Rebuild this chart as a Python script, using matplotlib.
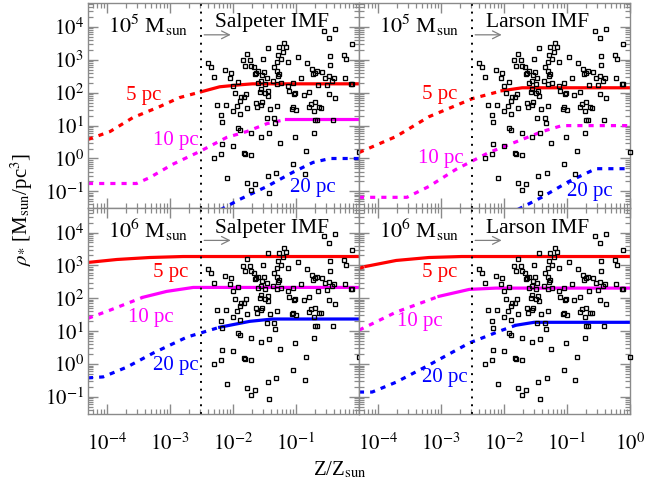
import matplotlib

matplotlib.use("Agg")
import matplotlib.pyplot as plt
import numpy as np

plt.rcParams["font.family"] = ["Liberation Serif", "DejaVu Serif"]
plt.rcParams["mathtext.fontset"] = "stix"
plt.rcParams["font.size"] = 14

log_z_obs = [
    -0.56, -0.373, -0.469, -0.117, -0.24, -0.203, -0.464, -0.827, -0.96, -1.12,
    -0.747, -0.693, -0.667, -0.587, -0.453, -0.544, -0.427, -0.40, -0.48, -0.229,
    -0.128, -1.44, -1.27, -1.195, -1.152, -1.205, -1.28, -1.237, -1.307, -1.771,
    -1.84, -1.733, -1.803, -1.707, -1.669, -1.627, -1.60, -1.643, -1.536, -1.509,
    -1.467, -1.344, -1.307, -1.28, -1.36, -1.307, -1.547, -1.493, -1.60, -2.40,
    -2.347, -2.304, -2.133, -2.027, -2.048, -1.92, -2.00, -1.973, -1.867, -1.824,
    -1.893, -2.107, -2.256, -2.187, -2.176, -1.931, -1.893, -1.776, -1.547, -1.493,
    -1.573, -1.44, -1.12, -1.04, -1.024, -1.013, -0.917, -0.88, -1.067, -1.003,
    -1.051, -0.757, -0.693, -0.64, -0.789, -0.72, -0.704, -0.667, -0.597, -0.411,
    -0.384, -1.333, -1.344, -1.467, -1.611, -1.547, -1.536, -1.408, -1.301, -1.707,
    -1.92, -1.888, -1.557, -1.429, -1.013, -0.709, -0.843, -1.253, -2.171, -2.293,
    -2.187, -2.00, -1.829, -1.803, -1.707, -1.051, -0.864, -1.323, -1.451, -2.091,
    -1.771, -1.653, -1.717, -1.429, 0.0, -0.107, -1.792, -1.632, -2.0,
    -0.725, -0.645, -0.512, -0.80, -0.48, -1.109, -1.515, -1.237, -1.264, -1.451,
]
log_rho_obs = [
    3.89, 3.94, 3.67, 3.47, 3.15, 3.02, 3.12, 2.89, 3.09, 2.92,
    2.71, 2.61, 2.66, 2.63, 2.84, 2.46, 2.36, 2.44, 2.51, 2.44,
    2.28, 3.37, 3.39, 3.52, 3.40, 3.25, 3.14, 3.02, 2.92, 3.19,
    2.99, 2.99, 2.82, 2.82, 2.77, 2.61, 2.66, 2.58, 2.54, 2.64,
    2.46, 2.77, 2.66, 2.51, 2.36, 2.28, 2.36, 2.28, 2.31, 2.89,
    2.77, 2.48, 2.68, 2.61, 2.44, 2.33, 2.21, 1.98, 1.86, 1.86,
    1.76, 1.64, 1.64, 1.31, 1.11, 1.61, 1.34, 1.53, 2.11, 1.98,
    2.01, 1.91, 2.21, 2.31, 1.96, 1.98, 2.44, 1.94, 1.51, 1.48,
    1.56, 1.66, 1.71, 1.56, 1.58, 1.44, 1.16, 1.16, 1.54, 1.16,
    1.84, 1.08, 1.24, 1.24, 1.56, 1.64, 1.71, 1.51, 1.60, 0.78,
    0.94, 0.88, 0.66, 0.76, 0.64, 0.79, 0.22, 0.46, 0.44, 0.01,
    0.13, 0.39, 0.17, 0.15, 0.11, -0.18, -0.47, -0.43, -0.53, -0.60,
    -0.73, -0.78, -0.95, -1.05, 0.20, 2.28, 1.97, 1.70, 1.43,
    2.57, 2.235, 2.24, 2.03, 1.96, 2.04, 3.02, 2.31, 2.57, 2.06,
]

# model curves (log10 Z, log10 rho); solid_from = log Z where the line turns solid
sal5_5pc_z = [-4.3, -3.95, -3.59, -3.16, -2.85, -2.5, -2.21, -1.89, -1.69, 0.0]
sal5_5pc_rho = [0.58, 0.82, 1.24, 1.58, 1.85, 2.03, 2.18, 2.24, 2.27, 2.27]
sal5_10pc_z = [-4.3, -3.53, -3.32, -2.96, -2.53, -2.1, -1.78, -1.46, -1.15, 0.0]
sal5_10pc_rho = [-0.76, -0.76, -0.58, -0.18, 0.21, 0.64, 0.82, 1.06, 1.19, 1.19]
sal5_20pc_z = [-2.2, -1.89, -1.46, -1.05, -0.73, -0.46, 0.0]
sal5_20pc_rho = [-1.56, -1.24, -0.85, -0.42, -0.12, 0.0, 0.0]

lar5_5pc_z = [-4.3, -3.71, -3.19, -2.5, -2.03, -1.71, 0.0]
lar5_5pc_rho = [0.18, 0.67, 1.27, 1.82, 2.06, 2.15, 2.15]
lar5_10pc_z = [-4.3, -3.54, -3.19, -2.76, -2.24, -1.71, -1.39, -1.08, 0.0]
lar5_10pc_rho = [-1.18, -1.18, -0.85, -0.33, 0.18, 0.58, 0.82, 1.0, 1.0]
lar5_20pc_z = [-1.78, -1.40, -0.97, -0.54, 0.0]
lar5_20pc_rho = [-1.55, -1.18, -0.70, -0.31, -0.31]

sal6_5pc_z = [-4.3, -3.84, -3.32, -2.79, 0.0]
sal6_5pc_rho = [3.09, 3.18, 3.24, 3.27, 3.27]
sal6_10pc_z = [-4.3, -3.95, -3.43, -3.05, -2.63, 0.0]
sal6_10pc_rho = [1.39, 1.64, 2.03, 2.21, 2.33, 2.33]
sal6_20pc_z = [-4.3, -4.06, -3.68, -3.27, -2.73, -2.21, -1.73, -1.37, 0.0]
sal6_20pc_rho = [-0.42, -0.39, -0.09, 0.33, 0.82, 1.12, 1.30, 1.37, 1.37]

lar6_5pc_z = [-4.3, -4.19, -3.71, -3.19, -2.67, 0.0]
lar6_5pc_rho = [2.91, 2.97, 3.15, 3.24, 3.27, 3.27]
lar6_10pc_z = [-4.3, -3.71, -3.03, -2.55, -2.13, 0.0]
lar6_10pc_rho = [1.03, 1.58, 2.06, 2.27, 2.31, 2.31]
lar6_20pc_z = [-4.3, -4.09, -3.71, -3.19, -2.55, -2.03, -1.81, -1.52, 0.0]
lar6_20pc_rho = [-0.85, -0.85, -0.55, -0.03, 0.64, 1.03, 1.18, 1.27, 1.27]

radii = ["5 pc", "10 pc", "20 pc"]
radius_colors = ["#ff0000", "#ff00ff", "#0000ff"]

panels = [
    {
        "mass": r"$10^{5}$ M$_{\rm sun}$",
        "imf": "Salpeter IMF",
        "curves": [(sal5_5pc_z, sal5_5pc_rho, -2.5), (sal5_10pc_z, sal5_10pc_rho, -1.15),
                   (sal5_20pc_z, sal5_20pc_rho, None)],
        "label_pos": [(-3.41, 1.91), (-2.90, 0.55), (-0.73, -0.88)],
    },
    {
        "mass": r"$10^{5}$ M$_{\rm sun}$",
        "imf": "Larson IMF",
        "curves": [(lar5_5pc_z, lar5_5pc_rho, -2.03), (lar5_10pc_z, lar5_10pc_rho, None),
                   (lar5_20pc_z, lar5_20pc_rho, None)],
        "label_pos": [(-3.02, 1.94), (-3.0, 0.0), (-0.63, -1.0)],
    },
    {
        "mass": r"$10^{6}$ M$_{\rm sun}$",
        "imf": "Salpeter IMF",
        "curves": [(sal6_5pc_z, sal6_5pc_rho, -4.3), (sal6_10pc_z, sal6_10pc_rho, -3.43),
                   (sal6_20pc_z, sal6_20pc_rho, -2.21)],
        "label_pos": [(-2.99, 2.79), (-3.3, 1.42), (-2.91, -0.03)],
    },
    {
        "mass": r"$10^{6}$ M$_{\rm sun}$",
        "imf": "Larson IMF",
        "curves": [(lar6_5pc_z, lar6_5pc_rho, -4.19), (lar6_10pc_z, lar6_10pc_rho, -3.03),
                   (lar6_20pc_z, lar6_20pc_rho, -1.81)],
        "label_pos": [(-3.02, 2.79), (-3.33, 1.30), (-2.93, -0.42)],
    },
]

z_cut = 10 ** -2.5
x_decades = [-4, -3, -2, -1, 0]
y_decades = [-1, 0, 1, 2, 3, 4]
spine_gray = "#8a8a8a"


def draw_curve(axis, log_z, log_rho, solid_from, color):
    z = 10 ** np.array(log_z)
    rho = 10 ** np.array(log_rho)
    dashes = (0, (1.6, 1.9))
    if solid_from is None:
        axis.plot(z, rho, color=color, lw=2.3, ls=dashes)
        return
    cut = np.log10(z) <= solid_from + 1e-9
    keep = np.log10(z) >= solid_from - 1e-9
    if cut.sum() > 1:
        axis.plot(z[cut], rho[cut], color=color, lw=2.3, ls=dashes)
    axis.plot(z[keep], rho[keep], color=color, lw=2.3, ls="-")


fig, axes = plt.subplots(2, 2, figsize=(6.61, 4.86), dpi=100)
fig.subplots_adjust(left=0.1331, right=0.953, bottom=0.148, top=0.994, wspace=0, hspace=0)

for index, (axis, panel) in enumerate(zip(axes.flat, panels)):
    axis.set_xscale("log")
    axis.set_yscale("log")
    axis.set_xlim(10 ** -4.3, 1.0)
    axis.set_ylim(10 ** -1.52, 10 ** 4.73)

    for (log_z, log_rho, solid_from), color in zip(panel["curves"], radius_colors):
        draw_curve(axis, log_z, log_rho, solid_from, color)
    for (lx, ly), text, color in zip(panel["label_pos"], radii, radius_colors):
        axis.text(10 ** lx, 10 ** ly, text, color=color, ha="center", va="center", fontsize=15)

    axis.plot(10 ** np.array(log_z_obs), 10 ** np.array(log_rho_obs), "s",
              mfc="none", mec="black", ms=3.5, mew=0.95, clip_on=False, zorder=3)

    axis.axvline(z_cut, color="black", lw=1.4, ls=(0, (1, 3)))
    axis.annotate("", xy=(0.0102, 10 ** 3.76), xytext=(z_cut, 10 ** 3.76),
                  arrowprops=dict(arrowstyle="->", color="#808080", lw=0.9))
    axis.text(1.05e-4, 10 ** 3.82, panel["mass"], ha="left", va="baseline", fontsize=16)
    axis.text(5.2e-3, 10 ** 4.0, panel["imf"], ha="left", va="baseline", fontsize=15.5)

    for spine in axis.spines.values():
        spine.set_color(spine_gray)
        spine.set_linewidth(1.0)

    axis.set_xticks([10.0 ** d for d in x_decades])
    axis.set_yticks([10.0 ** d for d in y_decades])
    axis.xaxis.set_minor_locator(matplotlib.ticker.LogLocator(base=10, subs=np.arange(2, 10), numticks=20))
    axis.yaxis.set_minor_locator(matplotlib.ticker.LogLocator(base=10, subs=np.arange(2, 10), numticks=20))
    axis.xaxis.set_minor_formatter(matplotlib.ticker.NullFormatter())
    axis.yaxis.set_minor_formatter(matplotlib.ticker.NullFormatter())

    row, col = divmod(index, 2)
    if row == 1:
        labels = [rf"$10^{{{d}}}$" for d in x_decades]
        if col == 0:
            labels[-1] = ""
        axis.set_xticklabels(labels)
    else:
        axis.set_xticklabels([])
    if col == 0:
        axis.set_yticklabels([rf"$10^{{{d}}}$" for d in y_decades])
    else:
        axis.set_yticklabels([])

    axis.tick_params(which="both", direction="in", top=True, right=True,
                     color=spine_gray, labelsize=15)
    axis.tick_params(which="major", length=7, width=1.0)
    axis.tick_params(which="minor", length=3.5, width=0.9)
    axis.tick_params(axis="x", pad=14)
    axis.tick_params(axis="y", pad=3)

fig.text(0.033, 0.57, r"$\rho_{*}$ [M$_{\rm sun}$/pc$^{3}$]", rotation=90,
         ha="center", va="center", fontsize=15)
fig.text(0.514, 0.033, r"Z/Z$_{\rm sun}$", ha="center", va="center", fontsize=15)

fig.savefig("out.png", dpi=100)
